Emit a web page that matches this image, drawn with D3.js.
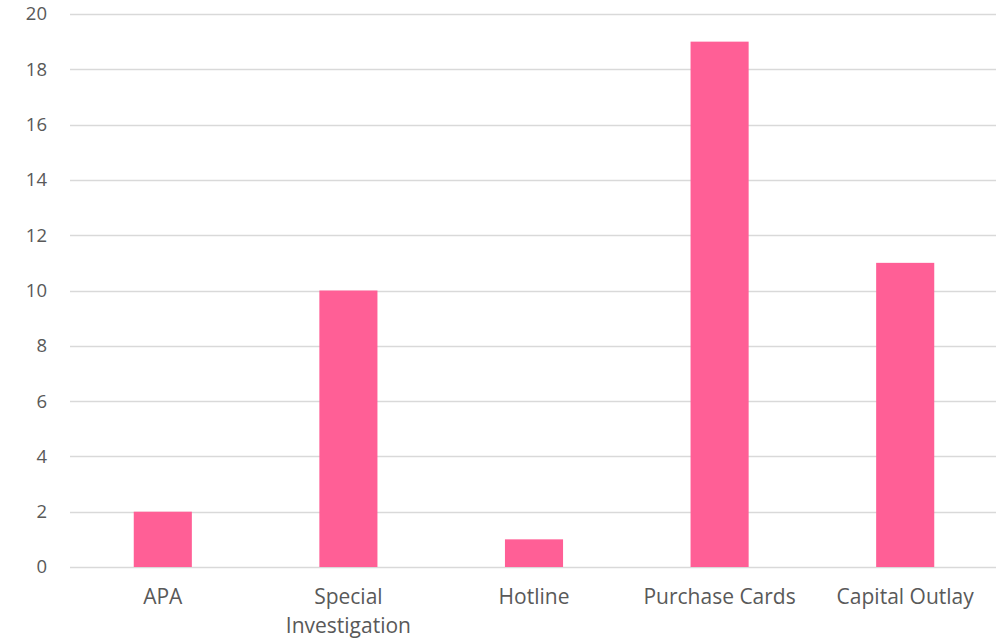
<!DOCTYPE html>
<html><head><meta charset="utf-8">
<script src="https://cdn.jsdelivr.net/npm/d3@7"></script>
<style>body{margin:0;background:#fff}svg{display:block}</style>
</head><body>
<svg id="c" width="996" height="641"></svg>
<script>
const categories = ["APA", "Special Investigation", "Hotline", "Purchase Cards", "Capital Outlay"];
const values = [2, 10, 1, 19, 11];
const yTicks = [0, 2, 4, 6, 8, 10, 12, 14, 16, 18, 20];

const svg = d3.select("#c");
const mLeft = 70, mRight = 998, mTop = 14, mBottom = 567;
const x = d3.scaleBand().domain(categories).range([mLeft, mRight]).paddingInner(0.687).paddingOuter(0.3435);
const y = d3.scaleLinear().domain([0, 20]).range([mBottom, mTop]);
const font = "'Open Sans', sans-serif";

svg.append("g").selectAll("line").data(yTicks).join("line")
  .attr("x1", mLeft).attr("x2", 996)
  .attr("y1", d => Math.round(y(d)) + 0.5).attr("y2", d => Math.round(y(d)) + 0.5)
  .attr("stroke", "#d9d9d9").attr("stroke-width", 1.3);

svg.append("g").selectAll("text").data(yTicks).join("text")
  .attr("x", 47).attr("y", d => y(d)).attr("dy", "0.35em")
  .attr("text-anchor", "end").attr("font-family", font).attr("font-size", 18.5)
  .attr("fill", "#595959").text(d => d);

svg.append("g").selectAll("rect").data(values).join("rect")
  .attr("x", (d, i) => x(categories[i])).attr("width", x.bandwidth())
  .attr("y", d => y(d)).attr("height", d => y(0) - y(d))
  .attr("fill", "#ff5f96");

const lbl = svg.append("g").selectAll("text").data(categories).join("text")
  .attr("x", d => x(d) + x.bandwidth() / 2).attr("y", 604)
  .attr("text-anchor", "middle").attr("font-family", font).attr("font-size", 21)
  .attr("fill", "#595959");
lbl.each(function(d) {
  const t = d3.select(this);
  const parts = d === "Special Investigation" ? ["Special", "Investigation"] : [d];
  parts.forEach((p, i) => t.append("tspan").attr("x", x(d) + x.bandwidth() / 2).attr("dy", i ? 29 : 0).text(p));
});
</script>
</body></html>
